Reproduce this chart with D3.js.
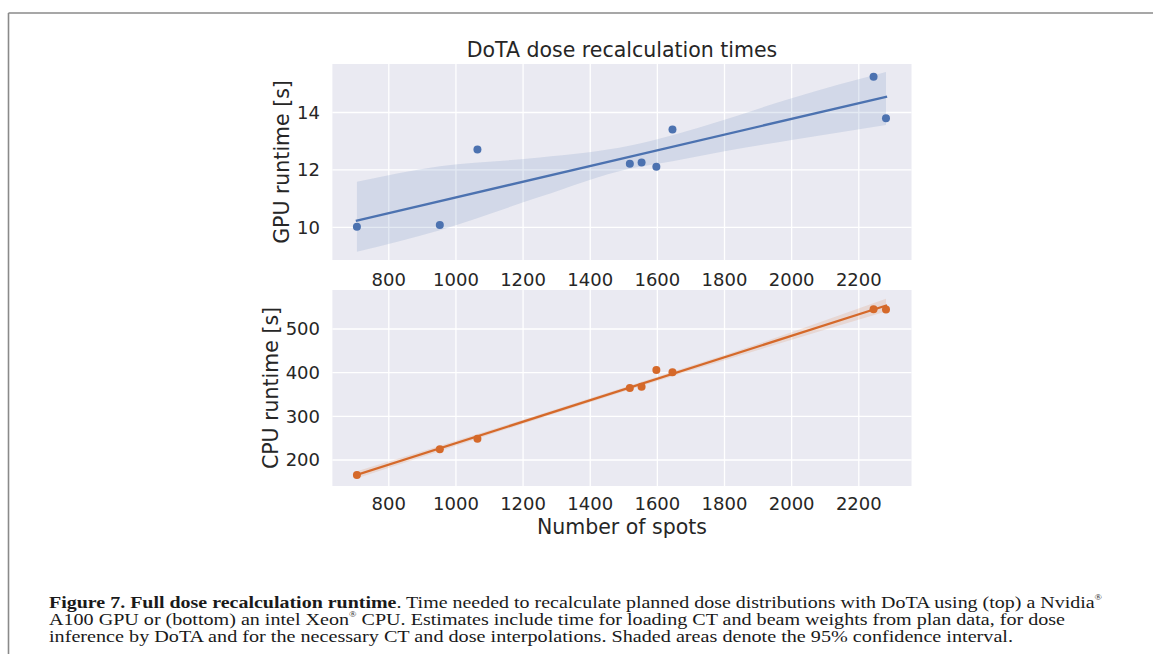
<!DOCTYPE html>
<html>
<head>
<meta charset="utf-8">
<script src="https://cdn.jsdelivr.net/npm/d3@7"></script>
<style>
  html, body { margin: 0; padding: 0; background: #fff; }
  svg { display: block; }
</style>
</head>
<body>
<svg id="chart" width="1153" height="654"></svg>
<script>
// ---- Data ----
const spots      = [705, 952, 1064, 1518, 1553, 1597, 1645, 2244, 2281];
const gpuRuntime = [10.02, 10.08, 12.71, 12.21, 12.26, 12.11, 13.41, 15.25, 13.80];
const cpuRuntime = [165.7, 224.5, 248.8, 364.8, 367.7, 406.0, 400.7, 545.5, 544.8];

// 95% confidence band edges (bootstrap band as drawn in the picture)
const gpuBandX     = [705, 952, 1250, 1520, 1645, 1800, 2000, 2281];
const gpuBandUpper = [11.59, 12.13, 12.43, 12.85, 13.21, 13.75, 14.50, 15.41];
const gpuBandLower = [9.15, 9.90, 11.06, 12.05, 12.30, 12.65, 13.04, 13.56];

const cpuBandX     = [705, 1100, 1500, 1900, 2281];
const cpuBandUpper = [174, 268, 366, 466, 569];
const cpuBandLower = [158, 258, 357, 452, 540];

const xTicks    = [800, 1000, 1200, 1400, 1600, 1800, 2000, 2200];
const gpuYTicks = [10, 12, 14];
const cpuYTicks = [200, 300, 400, 500];

const title   = "DoTA dose recalculation times";
const gpuLabel = "GPU runtime [s]";
const cpuLabel = "CPU runtime [s]";
const xLabel   = "Number of spots";

// ---- Layout ----
const svg = d3.select("#chart");
const W = 1153, H = 654;
const left = 332.4, right = 911.5;
const topPanel = { y0: 64, y1: 260, domain: [8.86, 15.69] };
const botPanel = { y0: 290, y1: 486, domain: [140.5, 589.3] };
const textColor = "#262626";
const bg = "#EAEAF2";
const blue = "#4C72B0";
const orange = "#D5692A";
const font = "'DejaVu Sans', sans-serif";

svg.append("rect").attr("width", W).attr("height", H).attr("fill", "#fff");

// figure frame
svg.append("line").attr("x1", 8.5).attr("x2", W).attr("y1", 13).attr("y2", 13)
  .attr("stroke", "#8a8a8a").attr("stroke-width", 1.6);
svg.append("line").attr("x1", 8.5).attr("x2", 8.5).attr("y1", 13).attr("y2", H)
  .attr("stroke", "#8a8a8a").attr("stroke-width", 1.6);

const x = d3.scaleLinear().domain([632, 2357]).range([left, right]);

function linreg(xs, ys) {
  const n = xs.length;
  const mx = d3.mean(xs), my = d3.mean(ys);
  let sxy = 0, sxx = 0;
  for (let i = 0; i < n; i++) { sxy += (xs[i]-mx)*(ys[i]-my); sxx += (xs[i]-mx)**2; }
  const b = sxy / sxx;
  return { b, a: my - b*mx };
}

function panel(p, ys, yTicks, bandX, bandU, bandL, color, label, labelX, tickBaseline) {
  const y = d3.scaleLinear().domain(p.domain).range([p.y1, p.y0]);
  const g = svg.append("g");
  g.append("rect").attr("x", left).attr("y", p.y0)
    .attr("width", right - left).attr("height", p.y1 - p.y0).attr("fill", bg);

  // grid
  g.selectAll(".gx").data(xTicks).enter().append("line")
    .attr("x1", d => x(d)).attr("x2", d => x(d)).attr("y1", p.y0).attr("y2", p.y1)
    .attr("stroke", "#fff").attr("stroke-width", 1.3);
  g.selectAll(".gy").data(yTicks).enter().append("line")
    .attr("x1", left).attr("x2", right).attr("y1", d => y(d)).attr("y2", d => y(d))
    .attr("stroke", "#fff").attr("stroke-width", 1.3);

  // confidence band
  const bandData = bandX.map((v, i) => ({ x: v, u: bandU[i], l: bandL[i] }));
  const area = d3.area().x(d => x(d.x)).y0(d => y(d.l)).y1(d => y(d.u))
    .curve(d3.curveMonotoneX);
  g.append("path").datum(bandData).attr("d", area)
    .attr("fill", color).attr("fill-opacity", 0.15);

  // regression line
  const r = linreg(spots, ys);
  const ext = d3.extent(spots);
  g.append("line")
    .attr("x1", x(ext[0])).attr("x2", x(ext[1]))
    .attr("y1", y(r.a + r.b*ext[0])).attr("y2", y(r.a + r.b*ext[1]))
    .attr("stroke", color).attr("stroke-width", 2.3).attr("stroke-linecap", "square");

  // points
  g.selectAll(".pt").data(spots).enter().append("circle")
    .attr("cx", d => x(d)).attr("cy", (d, i) => y(ys[i])).attr("r", 4)
    .attr("fill", color);

  // tick labels
  g.selectAll(".tx").data(xTicks).enter().append("text")
    .attr("x", d => x(d)).attr("y", tickBaseline)
    .attr("text-anchor", "middle").attr("font-family", font).attr("font-size", 18)
    .attr("fill", textColor).text(d => d);
  g.selectAll(".ty").data(yTicks).enter().append("text")
    .attr("x", 320).attr("y", d => y(d)).attr("dy", "0.36em")
    .attr("text-anchor", "end").attr("font-family", font).attr("font-size", 18)
    .attr("fill", textColor).text(d => d);

  // y label
  const cy = (p.y0 + p.y1) / 2;
  g.append("text")
    .attr("transform", `translate(${labelX},${cy}) rotate(-90)`)
    .attr("text-anchor", "middle").attr("font-family", font).attr("font-size", 20.5)
    .attr("fill", textColor).text(label);
  return y;
}

panel(topPanel, gpuRuntime, gpuYTicks, gpuBandX, gpuBandUpper, gpuBandLower, blue, gpuLabel, 289, 286);
panel(botPanel, cpuRuntime, cpuYTicks, cpuBandX, cpuBandUpper, cpuBandLower, orange, cpuLabel, 277.5, 509.5);

// title and x label
svg.append("text").attr("x", (left + right) / 2).attr("y", 57)
  .attr("text-anchor", "middle").attr("font-family", font).attr("font-size", 20.5)
  .attr("fill", textColor).text(title);
svg.append("text").attr("x", (left + right) / 2).attr("y", 534)
  .attr("text-anchor", "middle").attr("font-family", font).attr("font-size", 20.5)
  .attr("fill", textColor).text(xLabel);

// ---- Caption ----
const capFont = "'Liberation Serif', 'Times New Roman', serif";
const cap = svg.append("g").attr("font-family", capFont).attr("font-size", 16.4).attr("fill", "#1a1a1a");

const l1 = cap.append("text").attr("x", 49).attr("y", 607.5)
  .attr("textLength", 1053).attr("lengthAdjust", "spacingAndGlyphs");
l1.append("tspan").attr("font-weight", "bold").text("Figure 7. Full dose recalculation runtime");
l1.append("tspan").text(". Time needed to recalculate planned dose distributions with DoTA using (top) a Nvidia");
l1.append("tspan").attr("font-size", 8).attr("dy", -8).text("®");

const l2 = cap.append("text").attr("x", 49).attr("y", 624.8)
  .attr("textLength", 1016).attr("lengthAdjust", "spacingAndGlyphs");
l2.append("tspan").text("A100 GPU or (bottom) an intel Xeon");
l2.append("tspan").attr("font-size", 8).attr("dy", -8).text("®");
l2.append("tspan").attr("dy", 8).text(" CPU. Estimates include time for loading CT and beam weights from plan data, for dose");

cap.append("text").attr("x", 49).attr("y", 642)
  .attr("textLength", 964).attr("lengthAdjust", "spacingAndGlyphs")
  .text("inference by DoTA and for the necessary CT and dose interpolations. Shaded areas denote the 95% confidence interval.");
</script>
</body>
</html>
